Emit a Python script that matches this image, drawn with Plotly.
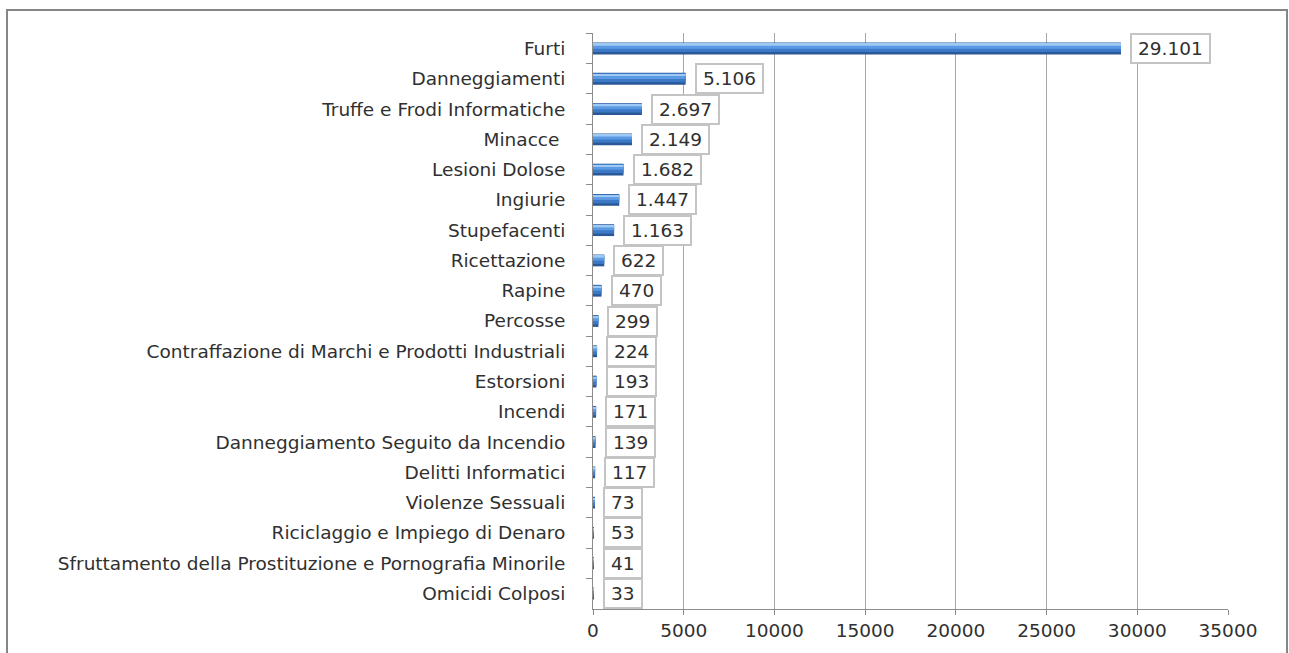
import plotly.graph_objects as go

categories = [
    "Furti", "Danneggiamenti", "Truffe e Frodi Informatiche", "Minacce\u00a0",
    "Lesioni Dolose", "Ingiurie", "Stupefacenti", "Ricettazione", "Rapine",
    "Percosse", "Contraffazione di Marchi e Prodotti Industriali", "Estorsioni",
    "Incendi", "Danneggiamento Seguito da Incendio", "Delitti Informatici",
    "Violenze Sessuali", "Riciclaggio e Impiego di Denaro",
    "Sfruttamento della Prostituzione e Pornografia Minorile", "Omicidi Colposi",
]
values = [29101, 5106, 2697, 2149, 1682, 1447, 1163, 622, 470, 299, 224, 193,
          171, 139, 117, 73, 53, 41, 33]
x_ticks = [0, 5000, 10000, 15000, 20000, 25000, 30000, 35000]

FONT = "DejaVu Sans"
FS = 18.5
TXT = "#303030"


def it_fmt(v):
    return f"{v:,}".replace(",", ".")


fig = go.Figure()
# layered bars to imitate the cylinder gradient
layers = [
    dict(width=0.39, offset=-0.195, color="#2a5896"),
    dict(width=0.29, offset=-0.175, color="#3b78c6"),
    dict(width=0.17, offset=-0.165, color="#5b9ae2"),
    dict(width=0.06, offset=-0.15, color="#9ccaf4"),
]
for L in layers:
    fig.add_trace(go.Bar(
        x=values, y=categories, orientation="h",
        width=[L["width"]] * len(values), offset=[L["offset"]] * len(values),
        marker=dict(color=L["color"], line=dict(width=0)),
        hoverinfo="skip", showlegend=False,
    ))

digit_w = 0.636 * FS
dot_w = 0.318 * FS
for v, c in zip(values, categories):
    txt = it_fmt(v)
    tw = sum(dot_w if ch == "." else digit_w for ch in txt)
    fig.add_annotation(
        x=v, y=c, xref="x", yref="y", text=txt, showarrow=False,
        xanchor="left", yanchor="middle", xshift=9,
        font=dict(family=FONT, size=FS, color=TXT),
        bgcolor="white", bordercolor="#c4c4c4", borderwidth=2, borderpad=2,
        width=tw + 8, height=23, align="center",
    )

fig.update_layout(
    width=1289, height=653,
    margin=dict(l=593, r=61, t=33, b=44),
    paper_bgcolor="white", plot_bgcolor="white",
    barmode="overlay",
    font=dict(family=FONT, size=FS, color=TXT),
    xaxis=dict(
        range=[0, 35000], tickvals=x_ticks, ticktext=[str(t) for t in x_ticks],
        showgrid=True, gridcolor="#a6a6a6", gridwidth=1,
        showline=True, linecolor="#8c8c8c", linewidth=1,
        ticks="outside", ticklen=5, tickcolor="#8c8c8c",
        zeroline=False, fixedrange=True,
    ),
    yaxis=dict(
        categoryorder="array", categoryarray=categories, autorange="reversed",
        showline=True, linecolor="#8c8c8c", linewidth=1,
        ticks="outside", ticklen=6, tickcolor="#8c8c8c", tickson="boundaries",
        showgrid=False, ticklabelstandoff=23, fixedrange=True,
    ),
    shapes=[dict(
        type="rect", xref="paper", yref="paper",
        x0=(7 - 593) / 635, x1=(1287 - 593) / 635,
        y0=-0.2, y1=1 + (33 - 10) / 576,
        line=dict(color="#868686", width=2), fillcolor="rgba(0,0,0,0)",
        layer="below",
    )],
)

fig.write_html(
    "out.html",
    config={"displayModeBar": False},
    post_script="document.body.style.margin='0';document.body.style.overflow='hidden';",
)
